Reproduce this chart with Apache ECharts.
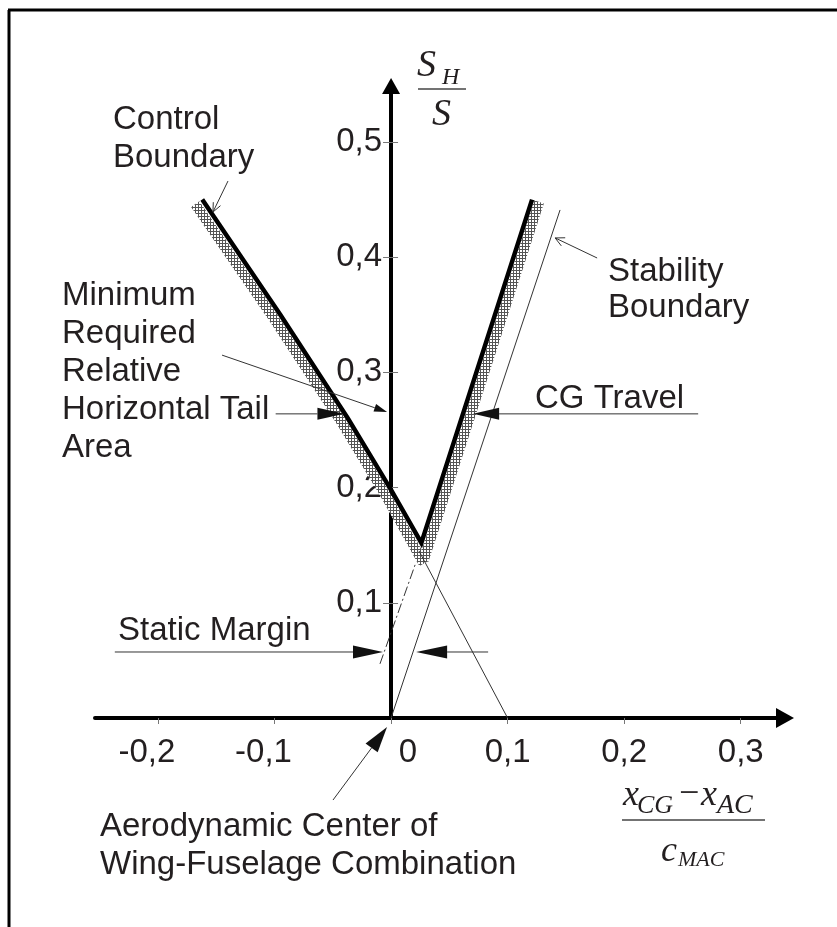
<!DOCTYPE html>
<html><head><meta charset="utf-8">
<script src="https://cdn.jsdelivr.net/npm/echarts@6/dist/echarts.min.js"></script>
<style>html,body{margin:0;padding:0;background:#fff}#c{width:837px;height:927px}</style>
</head><body><div id="c"></div>
<script>
// ---- data ----
const xTicks = [-0.2, -0.1, 0, 0.1, 0.2, 0.3];
const yTicks = [0.1, 0.2, 0.3, 0.4, 0.5];
const controlBoundary = [[-0.162, 0.45], [-0.095, 0.35], [-0.037, 0.26], [0, 0.198], [0.026, 0.152]];
const stabilityBoundary = [[0.026, 0.152], [0.121, 0.45]];
const controlHatch = [[-0.168, 0.446], [-0.100, 0.346], [-0.042, 0.256], [-0.005, 0.194], [0.028, 0.134]];
const stabilityHatch = [[0.127, 0.448], [0.028, 0.137]];
const controlExtension = [[0.024, 0.145], [0.1, 0]];
const stabilityLine = [[0, 0], [0.145, 0.441]];
const neutralDashed = [[-0.0095, 0.047], [0.021, 0.134]];
const cgTravelLeft = [-0.099, 0.264, -0.040, 0.264];
const cgTravelRight = [0.2635, 0.264, 0.0704, 0.264];
const staticMarginLeft = [-0.237, 0.0573, -0.0069, 0.0573];
const staticMarginRight = [0.0833, 0.0573, 0.0215, 0.0573];
const tailAreaLeader = [-0.145, 0.315, -0.0034, 0.2656];
const aeroLeader = [-0.0498, -0.0712, -0.0034, -0.0078];
const controlLeader = [-0.1399, 0.4661, -0.1528, 0.4392];
const stabilityLeader = [0.1768, 0.3993, 0.1408, 0.4167];

// ---- styling / rendering ----
const SANS = '"Liberation Sans", Arial, Helvetica, sans-serif';
const SERIF = '"Liberation Serif", "Times New Roman", serif';
const TXT = '#231f20';
const X_MIN = -0.254, X_MAX = 0.338, Y_MAX = 0.5486;
const GRID = { left: 95, right: 52, top: 86, bottom: 209 };
const plotW = 837 - GRID.left - GRID.right;
const zeroPx = GRID.left + (0 - X_MIN) / (X_MAX - X_MIN) * plotW;

function makeHatch() {
  const c = document.createElement('canvas'); c.width = 3; c.height = 3;
  const g = c.getContext('2d');
  g.fillStyle = '#fff'; g.fillRect(0, 0, 3, 3);
  g.fillStyle = '#555';
  g.fillRect(0, 0, 3, 1);
  g.fillRect(0, 0, 1, 3);
  return c;
}
const hatch = { image: makeHatch(), repeat: 'repeat' };

function fmt(v) {
  if (Math.abs(v) < 1e-9) return '0';
  return v.toFixed(1).replace('.', ',');
}

function arrowSeries(values, headLen, headW, open, color) {
  return {
    type: 'custom', silent: true, clip: false, z: 5,
    data: [values],
    renderItem: function (params, api) {
      const p1 = api.coord([api.value(0), api.value(1)]);
      const p2 = api.coord([api.value(2), api.value(3)]);
      const dx = p2[0] - p1[0], dy = p2[1] - p1[1];
      const L = Math.sqrt(dx * dx + dy * dy);
      const ux = dx / L, uy = dy / L, nx = -uy, ny = ux;
      const bx = p2[0] - ux * headLen, by = p2[1] - uy * headLen;
      const a = [bx + nx * headW / 2, by + ny * headW / 2];
      const b = [bx - nx * headW / 2, by - ny * headW / 2];
      const children = [{
        type: 'line',
        shape: { x1: p1[0], y1: p1[1], x2: open ? p2[0] : bx, y2: open ? p2[1] : by },
        style: { stroke: color || '#333', lineWidth: 1 }
      }];
      if (open) {
        children.push({ type: 'polyline', shape: { points: [a, p2, b] }, style: { stroke: color || '#333', fill: null, lineWidth: 1 } });
      } else {
        children.push({ type: 'polygon', shape: { points: [a, p2, b] }, style: { fill: '#111', stroke: null } });
      }
      return { type: 'group', children: children };
    }
  };
}

function T(text, x, y, font) {
  return { type: 'text', x: x, y: y, silent: true, z: 10,
    style: { text: text, font: font || ('33px ' + SANS), fill: TXT, verticalAlign: 'middle', align: 'left' } };
}
function L(x1, y1, x2, y2, w, c) {
  return { type: 'line', silent: true, z: 10, shape: { x1: x1, y1: y1, x2: x2, y2: y2 }, style: { stroke: c || '#000', lineWidth: w || 1 } };
}

const chart = echarts.init(document.getElementById('c'), null, { renderer: 'canvas', width: 837, height: 927 });

const labelFont = { fontSize: 33, fontFamily: SANS, color: TXT };

chart.setOption({
  animation: false,
  backgroundColor: '#fff',
  grid: Object.assign({ containLabel: false, outerBoundsMode: 'none' }, GRID),
  xAxis: {
    type: 'value', min: X_MIN, max: X_MAX,
    axisLine: { onZero: false, lineStyle: { color: '#000', width: 4 }, symbol: ['none', 'triangle'], symbolSize: [20, 18] },
    axisTick: { show: true, customValues: xTicks, length: 6, lineStyle: { color: '#777', width: 1 } },
    axisLabel: Object.assign({
      customValues: xTicks, margin: 18,
      formatter: function (v) {
        const s = fmt(v);
        if (v < -1e-9) return '{n|' + s + '}';
        if (Math.abs(v) < 1e-9) return '{z|' + s + '}';
        return s;
      },
      rich: { n: Object.assign({ padding: [0, 22, 0, 0] }, labelFont), z: Object.assign({ padding: [0, 0, 0, 34] }, labelFont) }
    }, labelFont),
    splitLine: { show: false }
  },
  yAxis: [{
    type: 'value', min: 0, max: Y_MAX, position: 'left', offset: -(zeroPx - GRID.left),
    axisLine: { onZero: false, lineStyle: { color: '#000', width: 4 }, symbol: ['none', 'triangle'], symbolSize: [18, 16] },
    axisTick: { show: true, customValues: yTicks, length: 8, lineStyle: { color: '#777', width: 1 } },
    axisLabel: Object.assign({ customValues: yTicks, margin: 9, formatter: fmt }, labelFont),
    splitLine: { show: false }
  }, {
    type: 'value', min: 0, max: Y_MAX, position: 'right', offset: -((837 - GRID.right) - zeroPx),
    axisLine: { show: false, onZero: false },
    axisTick: { show: true, customValues: yTicks, length: 7, lineStyle: { color: '#777', width: 1 } },
    axisLabel: { show: false },
    splitLine: { show: false }
  }],
  series: [
    { type: 'line', data: controlHatch, symbol: 'none', silent: true, z: 1, lineStyle: { width: 10, color: hatch, cap: 'butt' } },
    { type: 'line', data: stabilityHatch, symbol: 'none', silent: true, z: 1, lineStyle: { width: 10, color: hatch, cap: 'butt' } },
    { type: 'line', data: stabilityLine, symbol: 'none', silent: true, z: 2, lineStyle: { width: 1, color: '#333' } },
    { type: 'line', data: controlExtension, symbol: 'none', silent: true, z: 2, lineStyle: { width: 1, color: '#333' } },
    { type: 'line', data: neutralDashed, symbol: 'none', silent: true, z: 2, lineStyle: { width: 1, color: '#333', type: [10, 3, 2, 3] } },
    { type: 'line', data: controlBoundary.concat(stabilityBoundary.slice(1)), symbol: 'none', silent: true, z: 3,
      lineStyle: { width: 4.5, color: '#000', join: 'miter', cap: 'butt' } },
    arrowSeries(cgTravelLeft, 27, 12, false),
    arrowSeries(cgTravelRight, 26, 12, false),
    arrowSeries(staticMarginLeft, 30, 13, false),
    arrowSeries(staticMarginRight, 31, 13, false),
    arrowSeries(tailAreaLeader, 13, 8, false),
    arrowSeries(aeroLeader, 26, 15, false),
    arrowSeries(controlLeader, 9, 8, true),
    arrowSeries(stabilityLeader, 9, 9, true)
  ],
  graphic: [
    // frame
    L(8, 10, 837, 10, 3), L(9, 10, 9, 927, 3),
    // annotations
    T('Control', 113, 120), T('Boundary', 113, 158),
    T('Minimum', 62, 295.5), T('Required', 62, 333.5), T('Relative', 62, 371.5), T('Horizontal Tail', 62, 409.5), T('Area', 62, 447.5),
    T('Static Margin', 118, 630.5),
    T('CG Travel', 535, 398.5),
    T('Stability', 608, 271.5), T('Boundary', 608, 307.5),
    T('Aerodynamic Center of', 100, 826.5), T('Wing-Fuselage Combination', 100, 864.5),
    // y-axis name  S_H / S
    T('S', 417, 66, 'italic 38px ' + SERIF), T('H', 442, 78, 'italic 24px ' + SERIF),
    L(418, 89, 466, 89, 1.5, '#444'),
    T('S', 432, 115, 'italic 38px ' + SERIF),
    // x-axis name (x_CG - x_AC) / c_MAC
    T('x', 623, 796, 'italic 36px ' + SERIF), T('CG', 637, 806, 'italic 26px ' + SERIF),
    T('\u2212', 679, 795, '36px ' + SERIF),
    T('x', 701, 796, 'italic 36px ' + SERIF), T('AC', 717, 806, 'italic 28px ' + SERIF),
    L(622, 820, 765, 820, 1.5, '#444'),
    T('c', 661, 852, 'italic 36px ' + SERIF), T('MAC', 678, 860, 'italic 22px ' + SERIF)
  ]
});
</script>
</body></html>
